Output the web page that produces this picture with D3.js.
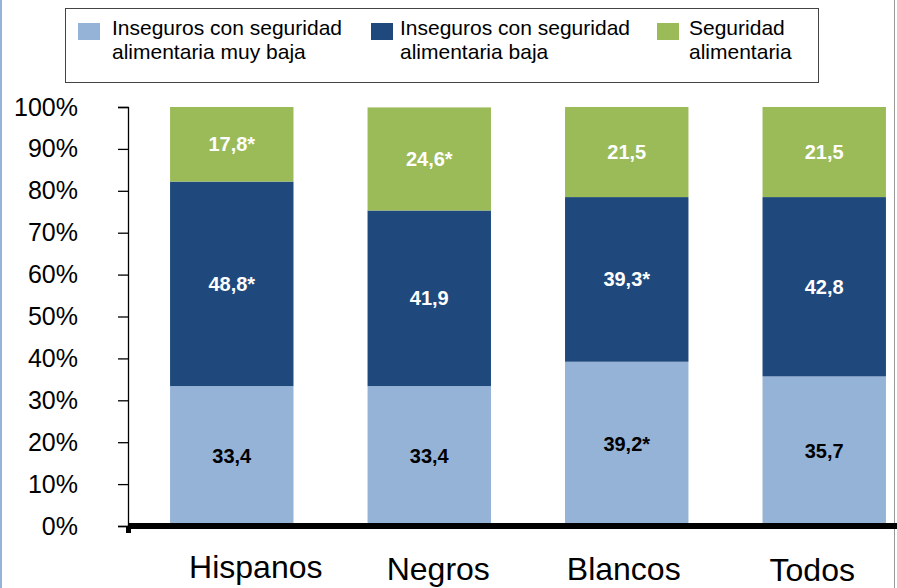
<!DOCTYPE html>
<html>
<head>
<meta charset="utf-8">
<title>Seguridad alimentaria</title>
<style type="text/css">
	body { margin:0; background:#fff; }
	svg text { font-family: "Liberation Sans", Arial, sans-serif; }
</style>
</head>
<body>
<script src="https://d3js.org/d3.v7.min.js"></script>
<script type="text/javascript">
	// data
	const categories = ['Hispanos', 'Negros', 'Blancos', 'Todos'];
	const muyBaja   = [33.4, 33.4, 39.2, 35.7];
	const baja      = [48.8, 41.9, 39.3, 42.8];
	const seguridad = [17.8, 24.6, 21.5, 21.5];
	const muyBajaLbl   = ['33,4', '33,4', '39,2*', '35,7'];
	const bajaLbl      = ['48,8*', '41,9', '39,3*', '42,8'];
	const seguridadLbl = ['17,8*', '24,6*', '21,5', '21,5'];
	const yTicks = [0, 10, 20, 30, 40, 50, 60, 70, 80, 90, 100];
	const legendNames = [
		['Inseguros con seguridad', 'alimentaria muy baja'],
		['Inseguros con seguridad', 'alimentaria baja'],
		['Seguridad', 'alimentaria']
	];

	const w = 897, h = 588;
	const colors = ['#95B3D7', '#1F497D', '#9BBB59'];
	const labelColors = ['#000', '#fff', '#fff'];
	// the category labels sit a little off the bar centres in the original slide
	const catDx = [24, 9, -3, -12];
	const catBase = [52, 54, 54, 55];

	const svg = d3.select('body').append('svg')
		.attr('width', w).attr('height', h);

	// slide borders
	svg.append('rect').attr('x', 0).attr('y', 0).attr('width', 2).attr('height', h).attr('fill', '#95B3D7');
	svg.append('rect').attr('x', 894).attr('y', 0).attr('width', 1).attr('height', h).attr('fill', '#999');

	const x = d3.scaleBand().domain(categories).range([96, 960])
		.paddingInner(0.375).paddingOuter(0.375);
	const y = d3.scaleLinear().domain([0, 100]).range([526, 107]);

	// stacked rows
	const rows = categories.map((c, i) => ({
		cat: c, a: muyBaja[i], b: baja[i], c2: seguridad[i], i: i
	}));
	const stack = d3.stack().keys(['a', 'b', 'c2']);
	const series = stack(rows);
	const labelSets = [muyBajaLbl, bajaLbl, seguridadLbl];

	const layers = svg.selectAll('g.layer')
		.data(series).enter()
		.append('g').attr('class', 'layer')
		.attr('fill', (_, k) => colors[k]);

	layers.selectAll('rect')
		.data(d => d).enter()
		.append('rect')
		.attr('x', d => x(d.data.cat))
		.attr('width', x.bandwidth())
		.attr('y', d => y(Math.min(d[1], 100)))
		.attr('height', d => y(d[0]) - y(Math.min(d[1], 100)));

	series.forEach((s, k) => {
		svg.append('g').selectAll('text')
			.data(s).enter()
			.append('text')
			.attr('x', d => x(d.data.cat) + x.bandwidth() / 2)
			.attr('y', d => (y(d[0]) + y(Math.min(d[1], 100))) / 2)
			.attr('dy', '0.35em')
			.attr('text-anchor', 'middle')
			.attr('font-size', '20px')
			.attr('font-weight', 'bold')
			.attr('fill', labelColors[k])
			.text(d => labelSets[k][d.data.i]);
	});

	// y axis
	const yAxis = svg.append('g')
		.attr('transform', 'translate(128,0)')
		.call(d3.axisLeft(y).tickValues(yTicks).tickSize(10).tickPadding(40).tickFormat(d => d + '%'));
	yAxis.selectAll('text').attr('font-size', '25px').attr('fill', '#000')
		.attr('font-family', '"Liberation Sans", Arial, sans-serif');
	yAxis.selectAll('line, path').attr('stroke', '#000').attr('stroke-width', 1.3);

	// thick baseline
	svg.append('rect').attr('x', 128).attr('y', y(0) - 3).attr('width', 769).attr('height', 6).attr('fill', '#000');
	svg.append('rect').attr('x', 126).attr('y', y(0)).attr('width', 5).attr('height', 7).attr('fill', '#000');

	// x axis labels
	const xAxis = svg.append('g')
		.attr('transform', `translate(0,${y(0)})`)
		.call(d3.axisBottom(x).tickSize(0).tickPadding(29));
	xAxis.select('.domain').remove();
	xAxis.selectAll('text')
		.attr('font-size', '32px').attr('fill', '#000')
		.attr('font-family', '"Liberation Sans", Arial, sans-serif')
		.attr('dy', null)
		.attr('x', (_, i) => catDx[i])
		.attr('y', (_, i) => catBase[i]);

	// legend
	const lg = svg.append('g');
	lg.append('rect').attr('x', 65.5).attr('y', 8.5).attr('width', 753).attr('height', 74)
		.attr('fill', '#fff').attr('stroke', '#444').attr('stroke-width', 1);
	const legX = [78, 371, 657];
	const legTextX = [112, 400, 689];
	legendNames.forEach((nm, k) => {
		lg.append('rect').attr('x', legX[k]).attr('y', 23).attr('width', 22).attr('height', 17).attr('fill', colors[k]);
		const t = lg.append('text').attr('x', legTextX[k]).attr('y', 35)
			.attr('font-size', '21px').attr('fill', '#000');
		t.append('tspan').attr('x', legTextX[k]).text(nm[0]);
		t.append('tspan').attr('x', legTextX[k]).attr('dy', 24).text(nm[1]);
	});
</script>
</body>
</html>
